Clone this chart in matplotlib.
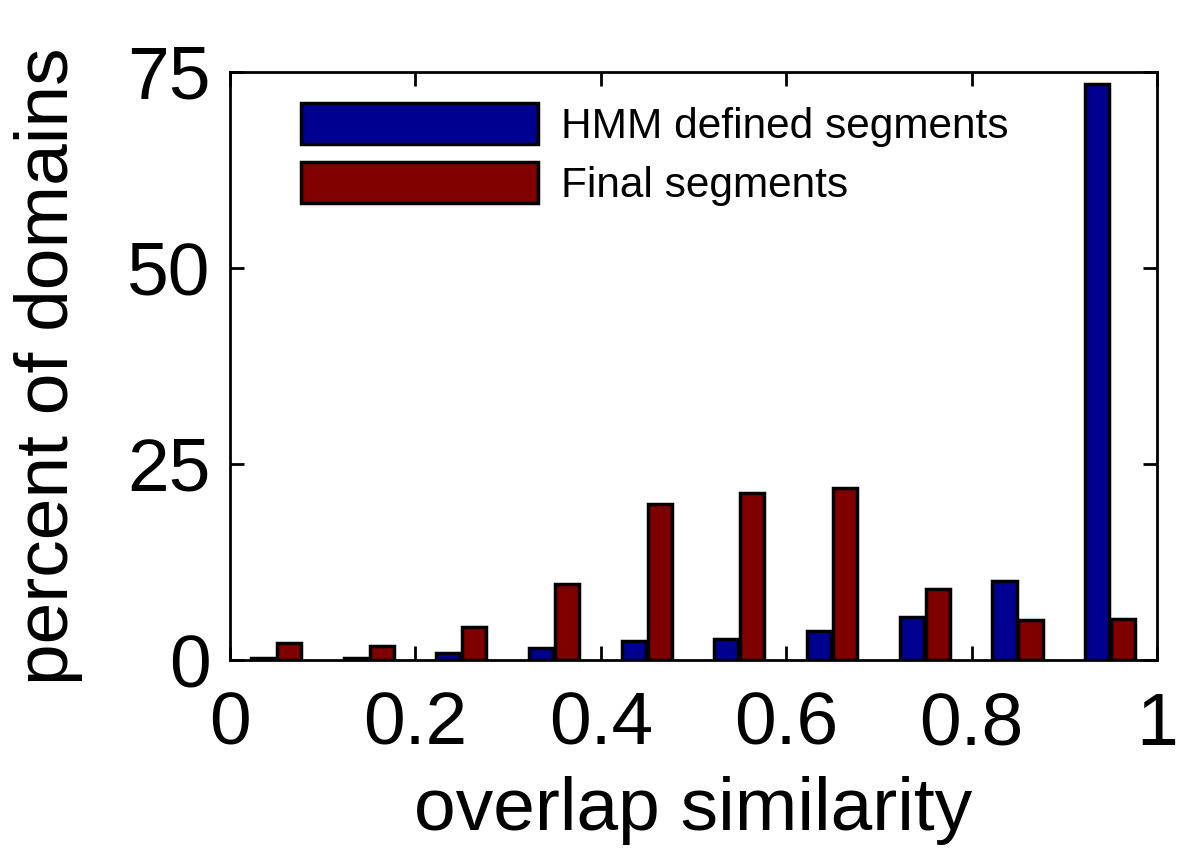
import numpy as np
import matplotlib
matplotlib.use("Agg")
import matplotlib.pyplot as plt

plt.rcParams['font.family'] = ['Liberation Sans', 'DejaVu Sans']

# bin centres of overlap similarity
bins = [0.05, 0.15, 0.25, 0.35, 0.45, 0.55, 0.65, 0.75, 0.85, 0.95]
hmm_pct = [0.3, 0.3, 0.9, 1.5, 2.4, 2.7, 3.7, 5.5, 10.1, 73.5]
final_pct = [2.2, 1.8, 4.2, 9.7, 19.9, 21.3, 21.9, 9.1, 5.1, 5.2]
series_names = ["HMM defined segments", "Final segments"]

fig = plt.figure(figsize=(12, 8.55), dpi=100)
ax = fig.add_axes([0.1917, 0.228, 0.7725, 0.688])

x = np.array(bins)
w = 0.026
ax.bar(x - 0.0145, hmm_pct, width=w, color="#000090", edgecolor="black",
       linewidth=2.5, label=series_names[0])
ax.bar(x + 0.0135, final_pct, width=w, color="#800000", edgecolor="black",
       linewidth=2.5, label=series_names[1])

ax.set_xlim(0, 1)
ax.set_ylim(0, 75)
ax.set_xticks([0, 0.2, 0.4, 0.6, 0.8, 1])
ax.set_xticklabels(["0", "0.2", "0.4", "0.6", "0.8", "1"])
ax.set_yticks([0, 25, 50, 75])
ax.tick_params(direction="in", length=10, width=2, labelsize=54,
               top=True, right=True, pad=14)
ax.tick_params(axis="x", pad=22)
for s in ax.spines.values():
    s.set_linewidth(2)

ax.set_xlabel("overlap similarity", fontsize=54, labelpad=12)
ax.set_ylabel("percent of domains", fontsize=54, labelpad=32)

leg = ax.legend(loc="upper left", bbox_to_anchor=(0.058, 0.975), frameon=False,
                fontsize=30.5, handlelength=5.6, handleheight=1.1,
                handletextpad=0.55, labelspacing=0.35, borderaxespad=0)

fig.savefig("out.png", dpi=100)
